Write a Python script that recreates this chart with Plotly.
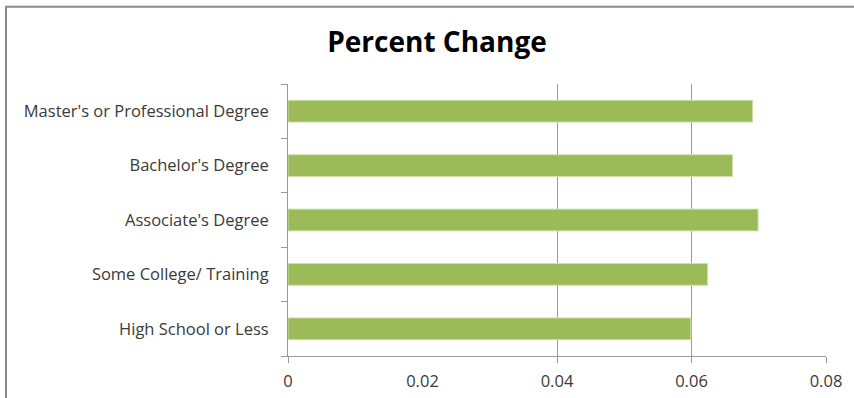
import plotly.graph_objects as go

# Education levels (bottom to top) and their percent change
categories = [
    "High School or Less",
    "Some College/ Training",
    "Associate's Degree",
    "Bachelor's Degree",
    "Master's or Professional Degree",
]
values = [0.0599, 0.0624, 0.0699, 0.0661, 0.0691]
x_range = [0, 0.08]
x_ticks = [0, 0.02, 0.04, 0.06, 0.08]
x_tick_labels = ["0", "0.02", "0.04", "0.06", "0.08"]
# value lines drawn across the plot
grid_ticks = [0, 0.04, 0.06, 0.08]

W, H = 854, 398
L, R, T, B = 288, 28, 83.5, 42
pw, ph = W - L - R, H - T - B

AXIS_GREY = "#9A9A9A"
FONT = "Open Sans, Calibri, sans-serif"

fig = go.Figure(
    go.Bar(
        x=values,
        y=categories,
        orientation="h",
        marker=dict(color="#9BBB59", line=dict(color="#CFE0AE", width=1)),
        width=0.4,
    )
)

fig.update_layout(
    width=W,
    height=H,
    margin=dict(l=L, r=R, t=T, b=B, autoexpand=False),
    paper_bgcolor="white",
    plot_bgcolor="white",
    showlegend=False,
    font=dict(family=FONT, size=16.5, color="#3A3A3A"),
    title=dict(
        text="<b>Percent Change</b>",
        x=437 / W,
        xanchor="center",
        y=1 - 42 / H,
        yanchor="middle",
        font=dict(family=FONT, size=28, color="#000000"),
    ),
    xaxis=dict(
        range=x_range,
        tickvals=x_ticks,
        ticktext=x_tick_labels,
        showgrid=False,
        showline=True,
        linecolor=AXIS_GREY,
        linewidth=1,
        ticks="",
        ticklabelstandoff=10,
        zeroline=False,
        automargin=False,
        fixedrange=True,
    ),
    xaxis2=dict(
        range=x_range,
        overlaying="x",
        side="bottom",
        tickvals=grid_ticks,
        showticklabels=False,
        showgrid=True,
        gridcolor=AXIS_GREY,
        gridwidth=1,
        ticks="outside",
        ticklen=6,
        tickcolor=AXIS_GREY,
        showline=False,
        zeroline=False,
        automargin=False,
        fixedrange=True,
    ),
    yaxis=dict(
        categoryorder="array",
        categoryarray=categories,
        showline=True,
        linecolor=AXIS_GREY,
        linewidth=1,
        ticks="outside",
        tickson="boundaries",
        ticklen=6,
        tickcolor=AXIS_GREY,
        ticklabelstandoff=15,
        showgrid=False,
        automargin=False,
        fixedrange=True,
    ),
    shapes=[
        # outer chart frame (left and top edges visible)
        dict(
            type="rect",
            xref="paper",
            yref="paper",
            x0=(6 - L) / pw,
            x1=(W + 20 - L) / pw,
            y0=-0.4,
            y1=(H - 6 - B) / ph,
            line=dict(color="#8A8A8A", width=2),
            layer="below",
        )
    ],
)

# invisible trace that binds the grid axis
fig.add_trace(
    go.Scatter(x=x_range, y=[None, None], xaxis="x2", mode="lines",
               hoverinfo="skip", showlegend=False)
)

fig.write_html("out.html")
